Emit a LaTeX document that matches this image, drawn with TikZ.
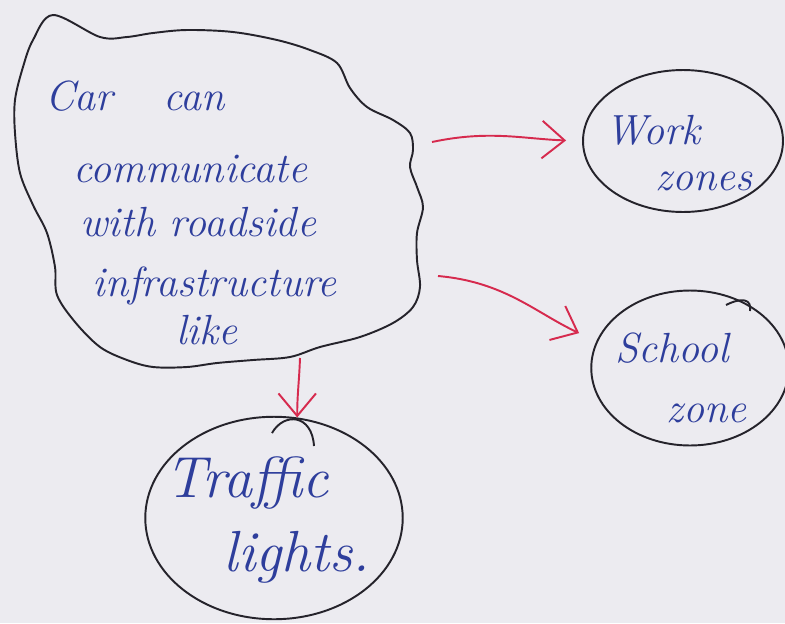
\documentclass[tikz,border=0pt]{standalone}
\usepackage{fontspec}
\usepackage{xcolor}
\usetikzlibrary{shapes.geometric, arrows.meta, positioning}

\definecolor{paper}{HTML}{ECEBF0}
\definecolor{ink}{HTML}{2E3E9C}
\definecolor{pen}{HTML}{25232B}
\definecolor{redpen}{HTML}{D62A4E}

\begin{document}
\begin{tikzpicture}[x=0.02cm,y=-0.02cm,
                    outline/.style={draw=pen,line width=1.1pt},
                    zone node/.style={ellipse,outline,inner sep=0pt},
                    zone text/.style={align=left,text=ink,inner sep=0pt,
                      font=\itshape\fontsize{24}{26}\selectfont},
                    line text/.style={text=ink,anchor=base west,inner sep=0pt,
                      font=\itshape\fontsize{24}{28}\selectfont},
                    redarrow/.style={draw=redpen,line width=1.1pt,
                      -{Straight Barb[length=0.45cm,width=0.75cm]}}]

 % paper
 \fill[paper] (0,0) rectangle (785,623);
 \useasboundingbox (0,0) rectangle (785,623);

 % the cloud
 \draw[outline] plot[smooth cycle,tension=0.55] coordinates {
   (53,15) (100,37) (127,37) (153,33) (187,30) (233,32) (277,40) (310,50)
   (337,63) (350,88) (367,107) (393,120) (410,133) (413,150) (410,167)
   (417,187) (423,207) (417,233) (417,260) (420,287) (413,307) (393,323)
   (360,337) (320,347) (290,357) (253,360) (217,363) (187,367) (153,367)
   (127,360) (100,347) (75,322) (57,295) (55,267) (47,233) (33,205)
   (20,173) (15,133) (15,100) (23,67) (33,40)};

 \node[line text] (l1) at (45,110)  {Car\hspace{1.2em}can};
 \node[line text] (l2) at (73,182)  {communicate};
 \node[line text] (l3) at (80,236)  {with roadside};
 \node[line text] (l4) at (92,296)  {infrastructure};
 \node[line text] (l5) at (176,344) {like};

 % the three zones
 \node[zone node,minimum width=4cm,minimum height=2.84cm] (work) at (683,141) {};
 \node[zone text] (worktext) at (679,153) {Work\\\hspace*{1.2em}zones};

 \node[zone node,minimum width=3.95cm,minimum height=3.1cm] (school) at (690,368) {};
 \node[zone text,font=\itshape\fontsize{24}{34}\selectfont] (schooltext) at (681,378)
      {School\\\hspace*{1.2em}zone};

 \node[zone node,minimum width=5.15cm,minimum height=4.05cm] (traffic) at (274,518) {};
 \node[zone text,font=\itshape\fontsize{33}{42}\selectfont] (traffictext) at (268,520)
      {Traffic\\\hspace*{1.0em}lights.};

 % pen overlaps
 \draw[outline] (272,433) .. controls (284,412) and (312,414) .. (314,446);
 \draw[outline] (726,305) .. controls (742,297) and (752,299) .. (750,311);

 % arrows
 \coordinate (c1) at (432,142);
 \coordinate (c2) at (438,276);
 \coordinate (c3) at (300,358);

 \draw[redarrow,shorten >=0.32cm] (c1) to[out=12,in=178] (work.west);
 \draw[redarrow,shorten >=0.38cm] (c2) to[out=-5,in=155] (school.164);
 \draw[redarrow] (c3) to[out=-92,in=90] (traffic.77);

\end{tikzpicture}
\end{document}
